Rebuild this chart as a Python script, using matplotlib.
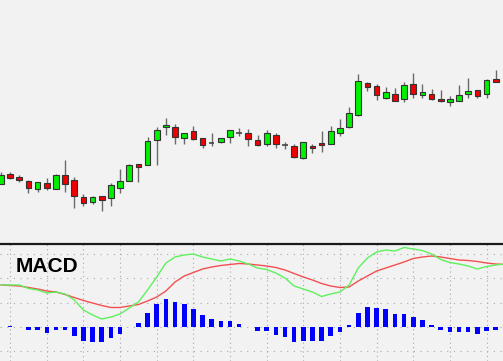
import numpy as np
import matplotlib
matplotlib.use('Agg')
import matplotlib.pyplot as plt

# candle data (price units)
opens = [59.7, 69.7, 66.3, 62.3, 54.3, 60.0, 54.3, 68.0, 63.0, 46.0,
         41.7, 47.0, 45.0, 55.3, 62.7, 79.0, 78.0, 103.7, 116.3, 116.3,
         105.3, 112.0, 105.7, 99.8, 101.3, 106.3, 110.7, 110.3, 103.3, 99.7,
         108.3, 98.7, 97.0, 85.3, 97.0, 100.0, 99.7, 110.7, 116.3, 128.7,
         159.7, 156.7, 145.7, 149.3, 144.0, 158.7, 147.7, 149.3, 144.7, 141.0,
         142.7, 149.3, 152.7, 149.3, 164.3]
highs = [71.0, 71.7, 68.3, 63.0, 61.3, 65.7, 69.7, 83.7, 66.3, 49.7,
         47.0, 47.0, 60.7, 74.7, 79.7, 79.7, 106.0, 116.3, 125.7, 119.7,
         110.7, 117.0, 105.7, 110.3, 105.7, 113.7, 115.3, 114.0, 108.7, 113.0,
         110.3, 101.3, 99.0, 101.3, 99.7, 112.0, 117.0, 124.0, 136.3, 169.0,
         161.3, 159.0, 155.7, 154.7, 161.3, 170.0, 159.0, 153.7, 153.0, 147.3,
         158.0, 164.7, 152.7, 164.3, 173.0]
lows = [59.0, 64.0, 61.3, 50.7, 51.3, 53.0, 54.3, 51.3, 35.7, 37.3,
        39.7, 32.0, 37.3, 50.7, 62.7, 61.3, 78.0, 78.7, 108.3, 99.7,
        99.7, 103.7, 95.3, 97.3, 100.3, 100.3, 107.0, 97.3, 97.3, 97.3,
        95.3, 94.7, 85.7, 84.7, 90.3, 91.3, 99.7, 107.3, 115.7, 127.3,
        152.0, 143.0, 144.3, 142.7, 141.3, 145.3, 145.3, 143.3, 141.3, 137.7,
        142.3, 145.3, 145.7, 145.3, 161.0]
closes = [68.0, 65.3, 63.0, 55.7, 61.3, 55.7, 68.7, 59.7, 47.0, 40.0,
          46.0, 43.7, 58.0, 62.3, 78.0, 76.0, 102.3, 113.7, 118.7, 106.3,
          110.0, 104.7, 98.0, 99.8, 105.7, 113.7, 110.7, 104.7, 98.0, 110.0,
          99.7, 98.7, 86.3, 101.3, 95.3, 98.0, 112.0, 115.3, 130.3, 162.0,
          155.7, 148.0, 151.3, 142.7, 158.0, 149.3, 151.3, 144.0, 142.0, 144.0,
          148.0, 151.7, 147.3, 163.0, 161.0]

# MACD panel data (lines run one bar past the last visible candle)
macd_fast = [42, 42, 42, 38.5, 37, 34, 35, 33, 27, 17,
             12, 8, 10, 13, 19, 25, 37, 50, 64, 70,
             72, 73, 70, 68, 66, 68, 66, 63, 59, 57.5,
             54, 49, 41, 38, 35, 30.5, 33, 35, 42, 59,
             69, 75, 77, 76, 79.5, 78, 76.5, 73, 67.5, 64.5,
             63, 61, 58, 60.5, 62, 63]
macd_slow = [42, 41.5, 41, 39.5, 38, 36, 35, 32.5, 29.5, 26.5,
             24, 21.5, 19.5, 19.5, 21, 22.5, 26, 30, 36, 45,
             51, 54.5, 58, 60, 61.5, 62.5, 63.5, 63, 62, 61,
             59.5, 57, 53.5, 50, 47, 43.5, 41, 39.5, 40, 46,
             51, 56, 59, 62, 65, 68.5, 70, 71, 70, 68.5,
             67, 66.5, 65.5, 64, 63, 62.5]
macd_hist = [0.5, 1, 0, -2.5, -3, -5.5, -3, -3, -8.5, -14,
             -15, -15, -11, -7, 0.5, 4, 14, 23, 28, 25.5,
             23.5, 18.5, 12, 8.5, 6, 6, 3.5, 0.5, -4, -4,
             -8, -10, -15, -14, -14, -14, -8.5, -4.5, 2, 14,
             20, 19, 18, 13.5, 13.5, 10, 7, 2.5, -2.5, -5,
             -5, -5, -7, -4, -3]

bg = '#f2f2f2'
W, H = 503, 361
split = 243.5

fig = plt.figure(figsize=(W / 100, H / 100), dpi=100, facecolor=bg)
ax1 = fig.add_axes([0, (H - split) / H, 1, split / H], facecolor=bg)
ax2 = fig.add_axes([0, 0, 1, (H - split) / H], facecolor=bg)

idx = np.arange(len(opens))
o = np.array(opens)
c = np.array(closes)
up = c > o
down = c < o
doji = c == o

ax1.vlines(idx, lows, highs, color='#6a6a6a', lw=1.0, zorder=1)
ax1.bar(idx[up], (c - o)[up], bottom=o[up], width=0.62,
        color='#00f000', edgecolor='#333333', lw=0.8, zorder=2)
ax1.bar(idx[down], (o - c)[down], bottom=c[down], width=0.62,
        color='#f00000', edgecolor='#333333', lw=0.8, zorder=2)
ax1.hlines(o[doji], idx[doji] - 0.3, idx[doji] + 0.3, color='#444444', lw=1.2, zorder=2)

xl = (-0.11, 54.8)
ax1.set_xlim(xl)
ax1.set_ylim(0, 243)
ax1.axis('off')

# MACD panel
step = 24.3
for k in np.arange(-1, 4):
    ax2.axhline(k * step, color='#a8a8a8', lw=0.8, ls=(0, (1, 5)), zorder=0)
for gx in np.arange(1, 55, 4):
    ax2.axvline(gx, color='#a8a8a8', lw=0.8, ls=(0, (1, 3)), zorder=0)

ax2.bar(np.arange(len(macd_hist)), macd_hist, width=0.5, color='#0000ff', zorder=2)
ax2.plot(np.arange(len(macd_slow)), macd_slow, color='#f25050', lw=1.0, zorder=3)
ax2.plot(np.arange(len(macd_fast)), macd_fast, color='#5ef05e', lw=1.0, zorder=3)

ax2.set_xlim(xl)
ax2.set_ylim(-34, 83.5)
ax2.set_xticks([])
ax2.set_yticks([])
for s in ['left', 'right', 'bottom']:
    ax2.spines[s].set_visible(False)
ax2.spines['top'].set_color('#1a1a1a')
ax2.spines['top'].set_linewidth(1.6)

ax2.text(0.032, 0.76, 'MACD', transform=ax2.transAxes, fontsize=15,
         fontweight='bold', family='Liberation Sans', va='baseline', ha='left')

fig.savefig('out.png', dpi=100, facecolor=bg)
